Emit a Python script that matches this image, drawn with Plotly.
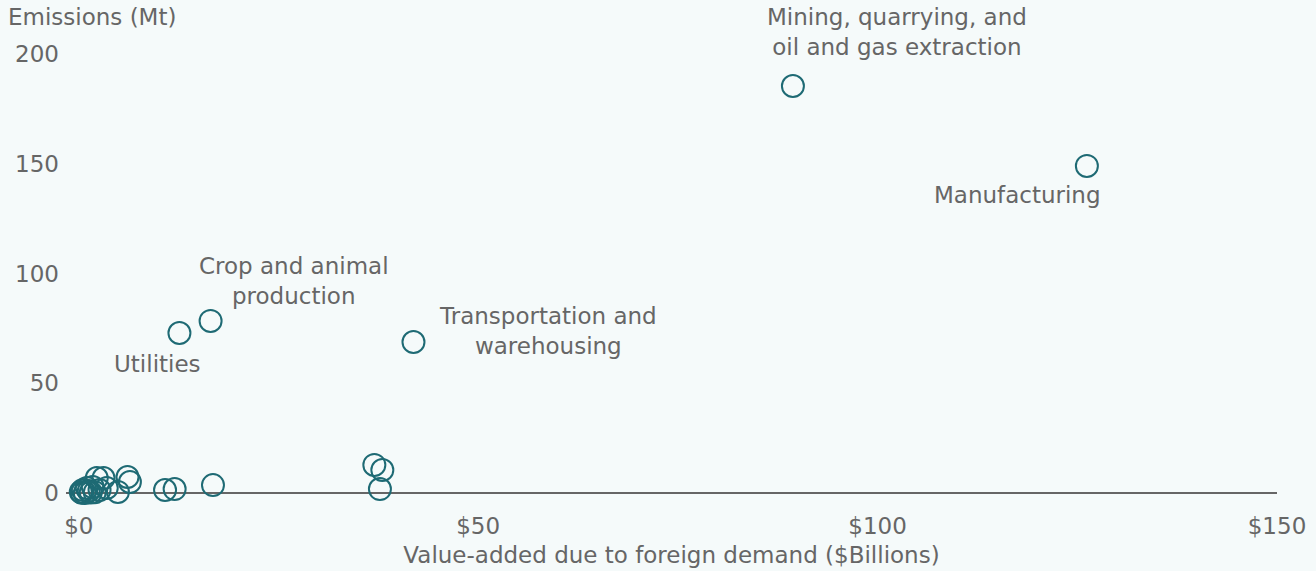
import plotly.graph_objects as go

# Data: value-added due to foreign demand ($B) vs emissions (Mt)
value_added = [0.25, 0.5, 0.75, 1.0, 1.25, 1.5, 1.75, 2.25, 2.6, 3.1, 3.5, 4.9, 6.1, 6.4,
               10.8, 12.0, 16.8, 37.0, 38.0, 37.7, 0.4, 2.0,
               12.6, 16.5, 41.9, 89.4, 126.2]
emissions = [0.5, 1.4, 0.0, 2.3, 0.9, 0.2, 2.7, 6.8, 1.4, 6.8, 2.3, 0.5, 7.3, 5.0,
             1.4, 1.8, 3.6, 12.8, 10.5, 1.8, 0.1, 0.3,
             72.9, 78.4, 68.8, 185.4, 149.0]

label_text = ["Mining, quarrying, and<br>oil and gas extraction", "Manufacturing",
              "Crop and animal<br>production", "Utilities", "Transportation and<br>warehousing"]
label_x = [102.4, 117.5, 27.0, 9.8, 58.7]
label_y = [210.0, 135.8, 96.6, 58.8, 73.8]

x_ticks = [0, 50, 100, 150]
x_tick_text = ["$0", "$50", "$100", "$150"]
y_ticks = [0, 50, 100, 150, 200]

X_RANGE = [-1.6, 150]
Y_RANGE = [-5, 205]

FONT = "DejaVu Sans"
FS = 23
TXT = "#666666"
BG = "#f5fafa"
MARK = "#1e6a74"

fig = go.Figure()
fig.add_trace(go.Scatter(
    x=value_added, y=emissions, mode="markers",
    marker=dict(symbol="circle-open", size=22, color=MARK, line=dict(width=2, color=MARK)),
    hoverinfo="x+y", showlegend=False, cliponaxis=False,
))

for t, lx, ly in zip(label_text, label_x, label_y):
    # paper coordinates (computed from the data scale) so labels outside the range still show
    px = (lx - X_RANGE[0]) / (X_RANGE[1] - X_RANGE[0])
    py = (ly - Y_RANGE[0]) / (Y_RANGE[1] - Y_RANGE[0])
    fig.add_annotation(x=px, y=py, xref="paper", yref="paper", xanchor="center", yanchor="middle",
                       text=t, showarrow=False,
                       font=dict(family=FONT, size=FS, color=TXT), align="center")

fig.add_annotation(x=0, y=1, xref="paper", yref="paper", xanchor="left", yanchor="bottom",
                   text="Emissions (Mt)", showarrow=False, xshift=-60, yshift=11,
                   font=dict(family=FONT, size=FS, color=TXT))

fig.update_layout(
    width=1316, height=571,
    margin=dict(l=66, r=39, t=43, b=67),
    paper_bgcolor=BG, plot_bgcolor=BG,
    font=dict(family=FONT, size=FS, color=TXT),
    xaxis=dict(range=X_RANGE, tickvals=x_ticks, ticktext=x_tick_text, showgrid=False,
               zeroline=False, showline=False, ticks="", ticklabelstandoff=6, automargin=False,
               title=dict(text="Value-added due to foreign demand ($Billions)", standoff=8,
                          font=dict(family=FONT, size=FS, color=TXT))),
    yaxis=dict(range=Y_RANGE, tickvals=y_ticks, showgrid=False, automargin=False,
               zeroline=True, zerolinecolor="#666666", zerolinewidth=2,
               showline=False, ticks="", ticklabelstandoff=6),
)

fig.write_html("out.html", config={"displayModeBar": False},
               post_script="document.body.style.margin='0';document.body.style.background='%s';" % BG)
